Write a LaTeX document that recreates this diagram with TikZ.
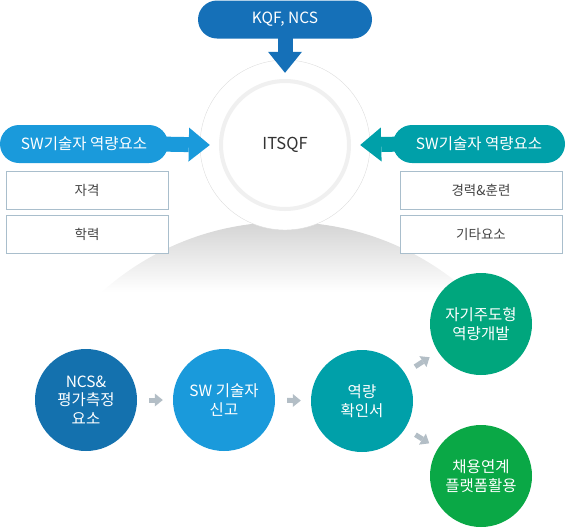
\documentclass[tikz,border=0pt]{standalone}
\usepackage{fontspec}
\setmainfont{Noto Sans CJK KR}
\usetikzlibrary{arrows.meta,positioning}
\definecolor{kqfblue}{HTML}{1570B8}
\definecolor{swblue}{HTML}{1A9ADB}
\definecolor{swteal}{HTML}{00A0A9}
\definecolor{ncsblue}{HTML}{1471AE}
\definecolor{devgreen}{HTML}{00A67D}
\definecolor{jobgreen}{HTML}{0AA846}
\definecolor{boxline}{HTML}{A9BECC}
\definecolor{ringline}{HTML}{DDDDDD}
\definecolor{ringgray}{HTML}{F0F0F0}
\definecolor{arrowgray}{HTML}{B3BEC6}

\begin{document}
\begin{tikzpicture}[x=1pt,y=1pt,
  pill/.style={rounded corners=19pt,minimum height=38pt,text=white,font=\fontsize{15.5}{18}\selectfont},
  itembox/.style={draw=boxline,fill=white,minimum width=162pt,minimum height=38pt,text=black!73,font=\fontsize{13.5}{16}\selectfont},
  stepnode/.style={circle,minimum size=102pt,text=white,align=center,font=\fontsize{15.5}{18.5}\selectfont},
  fatarrow/.style={line width=15pt,-{Triangle[width=34pt,length=21pt,line width=0pt]}},
  steparrow/.style={draw=arrowgray,line width=5pt,-{Triangle[width=13pt,length=8pt,line width=0pt]},shorten <=12pt,shorten >=10pt}]
\tikzstyle{every node}+=[inner sep=0pt]
\useasboundingbox (0,0) rectangle (567,-528);
\begin{scope}
\clip (285,-497) circle (275);
\shade [top color=black!17,bottom color=white] (0,-222) rectangle (567,-292);
\end{scope}
\node [circle,draw=ringline,fill=white,minimum size=170pt] (itsqf) at (285,-145) {};
\node [circle,draw=ringgray,line width=4pt,minimum size=128pt,text=black!80,font=\fontsize{16.5}{20}\selectfont] (core) at (itsqf) {ITSQF};
\node [pill,fill=kqfblue,minimum width=174pt] (kqf) at (285,-19.5) {KQF, NCS};
\draw [fatarrow,kqfblue] ([yshift=10pt]kqf.south) -- ([yshift=-13pt]itsqf.north);
\node [pill,fill=swblue,minimum width=168pt] (swleft) at (84,-144) {SW기술자 역량요소};
\draw [fatarrow,swblue] ([xshift=-10pt]swleft.east) -- ([xshift=10pt]itsqf.west);
\node [pill,fill=swteal,minimum width=172pt] (swright) at (479,-144) {SW기술자 역량요소};
\draw [fatarrow,swteal] ([xshift=10pt]swright.west) -- ([xshift=-10pt]itsqf.east);
\node [itembox] (cert) at (87,-190) {자격};
\node [itembox] (edu) at (87,-234) {학력};
\node [itembox] (career) at (481,-190) {경력\&훈련};
\node [itembox] (etc) at (481,-234) {기타요소};
\node [stepnode,fill=ncsblue] (ncs) at (86,-400) {NCS\&\\평가측정\\요소};
\node [stepnode,fill=swblue] (report) at (224,-400) {SW 기술자\\신고};
\node [stepnode,fill=swteal] (confirm) at (362,-401) {역량\\확인서};
\node [stepnode,fill=devgreen] (selfdev) at (481,-324) {자기주도형\\역량개발};
\node [stepnode,fill=jobgreen] (jobuse) at (481,-476) {채용연계\\플랫폼활용};
\draw [steparrow] (ncs) -- (report);
\draw [steparrow] (report) -- (confirm);
\draw [steparrow] (confirm) -- (selfdev);
\draw [steparrow] (confirm) -- (jobuse);
\end{tikzpicture}
\end{document}
